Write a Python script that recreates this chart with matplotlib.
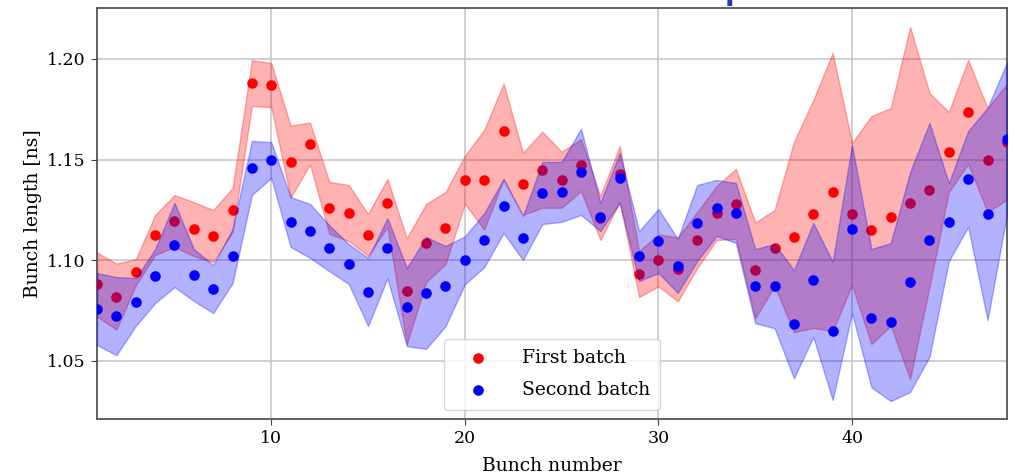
import numpy as np
import matplotlib
matplotlib.use("Agg")
import matplotlib.pyplot as plt

bunch = list(range(1, 49))

first_mean = [1.088, 1.082, 1.094, 1.1126, 1.1195, 1.1155, 1.112, 1.125, 1.188, 1.187,
              1.149, 1.158, 1.126, 1.1235, 1.1126, 1.1285, 1.0847, 1.1086, 1.116, 1.140,
              1.140, 1.164, 1.138, 1.145, 1.140, 1.1473, 1.121, 1.1429, 1.0932, 1.100,
              1.0955, 1.110, 1.1235, 1.128, 1.095, 1.1061, 1.1116, 1.123, 1.1339, 1.123,
              1.115, 1.1215, 1.1285, 1.1349, 1.1538, 1.1737, 1.1498, 1.1588]
first_std = [0.0159, 0.0164, 0.0065, 0.0099, 0.0129, 0.0134, 0.0129, 0.0109, 0.0114, 0.0109,
             0.0179, 0.0104, 0.0129, 0.0139, 0.0104, 0.0119, 0.0263, 0.0194, 0.0179, 0.0119,
             0.0248, 0.0238, 0.0154, 0.0189, 0.0139, 0.0129, 0.0109, 0.0139, 0.0114, 0.0129,
             0.0159, 0.0139, 0.0134, 0.0174, 0.0238, 0.0189, 0.0472, 0.0566, 0.0691, 0.0353,
             0.0566, 0.0541, 0.0874, 0.0482, 0.0199, 0.0258, 0.0258, 0.0288]

second_mean = [1.0758, 1.0723, 1.0793, 1.0922, 1.1076, 1.0927, 1.0857, 1.1021, 1.1459, 1.1498,
               1.119, 1.1146, 1.106, 1.0982, 1.0843, 1.106, 1.0768, 1.0838, 1.0872, 1.100,
               1.110, 1.127, 1.111, 1.1334, 1.134, 1.1439, 1.1215, 1.141, 1.1021, 1.1096,
               1.0972, 1.1185, 1.126, 1.1235, 1.0872, 1.0872, 1.0683, 1.0902, 1.0649, 1.1155,
               1.0713, 1.0693, 1.0892, 1.1101, 1.119, 1.1404, 1.123, 1.1603]
second_std = [0.0179, 0.0194, 0.0119, 0.0134, 0.0209, 0.0129, 0.0119, 0.0134, 0.0134, 0.0089,
              0.0124, 0.0134, 0.0114, 0.0099, 0.0169, 0.0149, 0.0194, 0.0278, 0.0199, 0.0119,
              0.0134, 0.0134, 0.0109, 0.0154, 0.0149, 0.0214, 0.0070, 0.0124, 0.0124, 0.0159,
              0.0134, 0.0189, 0.0139, 0.0149, 0.0184, 0.0209, 0.0268, 0.0283, 0.0343, 0.0417,
              0.0343, 0.0392, 0.0546, 0.0581, 0.0194, 0.0238, 0.0527, 0.0378]

x_ticks = [10, 20, 30, 40]
y_ticks = [1.05, 1.10, 1.15, 1.20]
y_tick_labels = ["1.05", "1.10", "1.15", "1.20"]

plt.rcParams['font.family'] = ['DejaVu Serif']

fig = plt.figure(figsize=(10.15, 4.75), dpi=100)
ax = fig.add_axes([0.0956, 0.1179, 0.8964, 0.8653])

x = np.array(bunch)
m1 = np.array(first_mean); s1 = np.array(first_std)
m2 = np.array(second_mean); s2 = np.array(second_std)

ax.fill_between(x, m1 - s1, m1 + s1, color='red', alpha=0.3, zorder=2)
ax.scatter(x, m1, color='red', s=58, zorder=3, label='First batch', linewidths=0)
ax.fill_between(x, m2 - s2, m2 + s2, color='blue', alpha=0.3, zorder=4)
ax.scatter(x, m2, color='blue', s=58, zorder=5, label='Second batch', linewidths=0)

ax.set_xlim(1, 48)
ax.set_ylim(1.0212, 1.2253)
ax.set_xticks(x_ticks)
ax.set_yticks(y_ticks)
ax.set_yticklabels(y_tick_labels)
ax.tick_params(labelsize=12.5, length=4, color='#444444', pad=4)
ax.grid(True, color='#c8c8c8', linewidth=1.2, zorder=0)
ax.set_axisbelow(True)
for sp in ax.spines.values():
    sp.set_color('#555555')
    sp.set_linewidth(1.3)

ax.set_xlabel('Bunch number', fontsize=13.5, labelpad=7)
ax.set_ylabel('Bunch length [ns]', fontsize=13.5, labelpad=4)

leg = ax.legend(loc='lower center', fontsize=13.5, handlelength=2.5, handletextpad=1.1,
                borderpad=0.55, labelspacing=0.75, framealpha=0.8)

fig.text(0.714, 1.0, 'p', color='#1f3fa6', fontsize=20, fontweight='bold',
         family='DejaVu Sans', ha='left', va='baseline')

fig.savefig('out.png', dpi=100)
